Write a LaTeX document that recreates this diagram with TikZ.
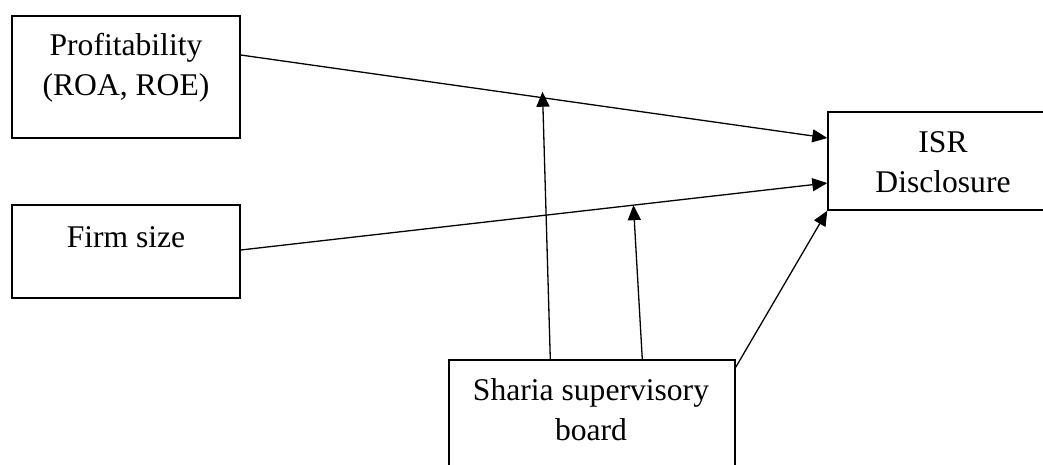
\documentclass[tikz,border=0pt]{standalone}
\usepackage{fontspec}
\setmainfont{Liberation Serif}
\usetikzlibrary{arrows.meta}
\begin{document}
\begin{tikzpicture}[x=1pt,y=-1pt,
  box/.style={draw,line width=1.4pt,inner sep=0pt},
  txt/.style={align=center,inner sep=0pt,font=\fontsize{31.6}{40}\selectfont},
  conn/.style={line width=1.3pt,-{Triangle[length=15pt,width=13pt]}}]
\fill[white] (0,0) rectangle (1043,464);
\clip (0,0) rectangle (1043,464);

% variable boxes
\node[box,minimum width=228pt,minimum height=122pt] (prof) at (126,77) {};
\node[txt] (profT) at (126,68) {Profitability\\(ROA, ROE)};
\node[box,minimum width=228pt,minimum height=93pt] (firm) at (126,251.5) {};
\node[txt] (firmT) at (126,237) {Firm size};
\node[box,minimum width=230pt,minimum height=98pt] (isr) at (943,161) {};
\node[txt] (isrT) at (943,162) {ISR\\Disclosure};
\node[box,minimum width=286pt,minimum height=115pt] (sharia) at (592,417.5) {};
\node[txt] (shariaT) at (591,410) {Sharia supervisory\\board};

% direct effects
\draw[conn] ([yshift=22pt]prof.east) -- coordinate[pos=0.5145] (m1) ([yshift=23pt]isr.west);
\draw[conn] ([yshift=1.5pt]firm.east) -- coordinate[pos=0.6695] (m2) ([yshift=-22pt]isr.west);
\draw[conn] ([yshift=-8pt]sharia.north east) -- (isr.south west);

% moderating effects
\draw[conn] ([xshift=102pt]sharia.north west) -- ([yshift=6pt]m1);
\draw[conn] ([xshift=194pt]sharia.north west) -- (m2);
\end{tikzpicture}
\end{document}
